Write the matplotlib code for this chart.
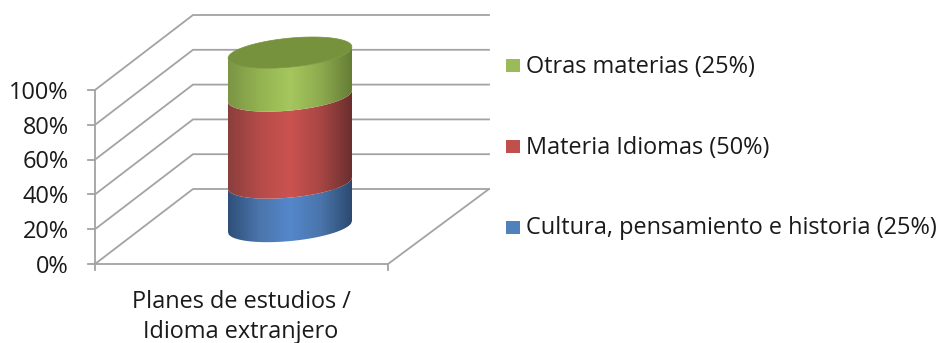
import numpy as np
import matplotlib
matplotlib.use("Agg")
import matplotlib.pyplot as plt
from matplotlib.patches import Polygon, Rectangle
from matplotlib.colors import LinearSegmentedColormap

plt.rcParams['font.family'] = ['Open Sans', 'DejaVu Sans']

category_lines = ["Planes de estudios /", "Idioma extranjero"]
series = ["Cultura, pensamiento e historia (25%)", "Materia Idiomas (50%)", "Otras materias (25%)"]
values = [25, 50, 25]
yticks = [0, 20, 40, 60, 80, 100]
legend_colors = ["#4f81bd", "#c0504d", "#9bbb59"]
gradients = [["#2f4f78", "#4a75ab", "#5587cb", "#4a75ab", "#2c4a70"],
             ["#8a3f3d", "#b54b49", "#cb5350", "#a84644", "#6a2f2e"],
             ["#7b9544", "#93b251", "#a5c75e", "#8dab4e", "#657d35"]]
top_color = "#76923c"

W, H = 938, 343
FS = 16.9
TXT = "#1a1a1a"
fig = plt.figure(figsize=(W / 100, H / 100), dpi=100)
ax = fig.add_axes([0, 0, 1, 1])
PX = 1.74            # pixels per percent
Y0 = 264             # pixel row of 0 %
ylim = ((Y0 - H) / PX, Y0 / PX)
ax.set_xlim(0, W)
ax.set_ylim(*ylim)
ax.axis("off")

def row(p):
    """pixel row -> percent axis position (for text and legend layout)"""
    return (Y0 - p) / PX

XL, XR, XB = 95, 388, 489      # front left, front right, back right
DX, DY = 98, 75 / PX           # depth offset of the chart floor
GRID = "#a3a3a3"
LW = 1.3

for t in yticks:
    ax.plot([XL, XL + DX, XB], [t, t + DY, t + DY], color=GRID, lw=LW, solid_joinstyle="miter")
    ax.plot([XL - 7, XL], [t, t], color=GRID, lw=LW)
    ax.text(68.5, t - 1.6, f"{t}%", ha="right", va="center", fontsize=FS, color=TXT)
ax.plot([XL, XL], [0, 100], color=GRID, lw=LW)
ax.plot([XL, XR, XB], [0, 0, DY], color=GRID, lw=LW)
for x in (XL, XR):
    ax.plot([x, x], [0, -3.5], color=GRID, lw=LW)

for line, p in zip(category_lines, (302, 331.5)):
    ax.text(241, row(p), line, ha="center", va="center", fontsize=FS, color=TXT)

# Cylinder
CX, RX, RY, SH = 290, 62, 14.5 / PX, 5.7 / PX
BASE = 21.5
u = np.linspace(-1, 1, 161)
def lower(c):
    return c + SH * u - RY * np.sqrt(1 - u ** 2)
def upper(c):
    return c + SH * u + RY * np.sqrt(1 - u ** 2)

grad = np.linspace(0, 1, 256).reshape(1, -1)
level = BASE
for val, stops in zip(values, gradients):
    top = level + val
    xs = np.r_[CX + RX * u, CX + RX * u[::-1]]
    ys = np.r_[lower(level), lower(top)[::-1]]
    poly = Polygon(np.c_[xs, ys], closed=True, fc="none", ec="none")
    ax.add_patch(poly)
    cmap = LinearSegmentedColormap.from_list("c", stops)
    im = ax.imshow(grad, extent=[CX - RX, CX + RX, level - 15, top + 15], aspect="auto",
                   cmap=cmap, zorder=3, interpolation="bilinear")
    im.set_clip_path(poly)
    level = top
ax.set_xlim(0, W)
ax.set_ylim(*ylim)
xs = np.r_[CX + RX * u, CX + RX * u[::-1]]
ys = np.r_[lower(level), upper(level)[::-1]]
ax.add_patch(Polygon(np.c_[xs, ys], closed=True, fc=top_color, ec=top_color, lw=0.5, zorder=4))

# Legend
for name, col, p in zip(series, legend_colors, (227, 146, 65.5)):
    ax.add_patch(Rectangle((506, row(p + 6.5)), 14, 13 / PX, fc=col, ec="none"))
    ax.text(526, row(p + 1.5), name, ha="left", va="center", fontsize=FS, color=TXT)

fig.savefig("out.png", dpi=100)
